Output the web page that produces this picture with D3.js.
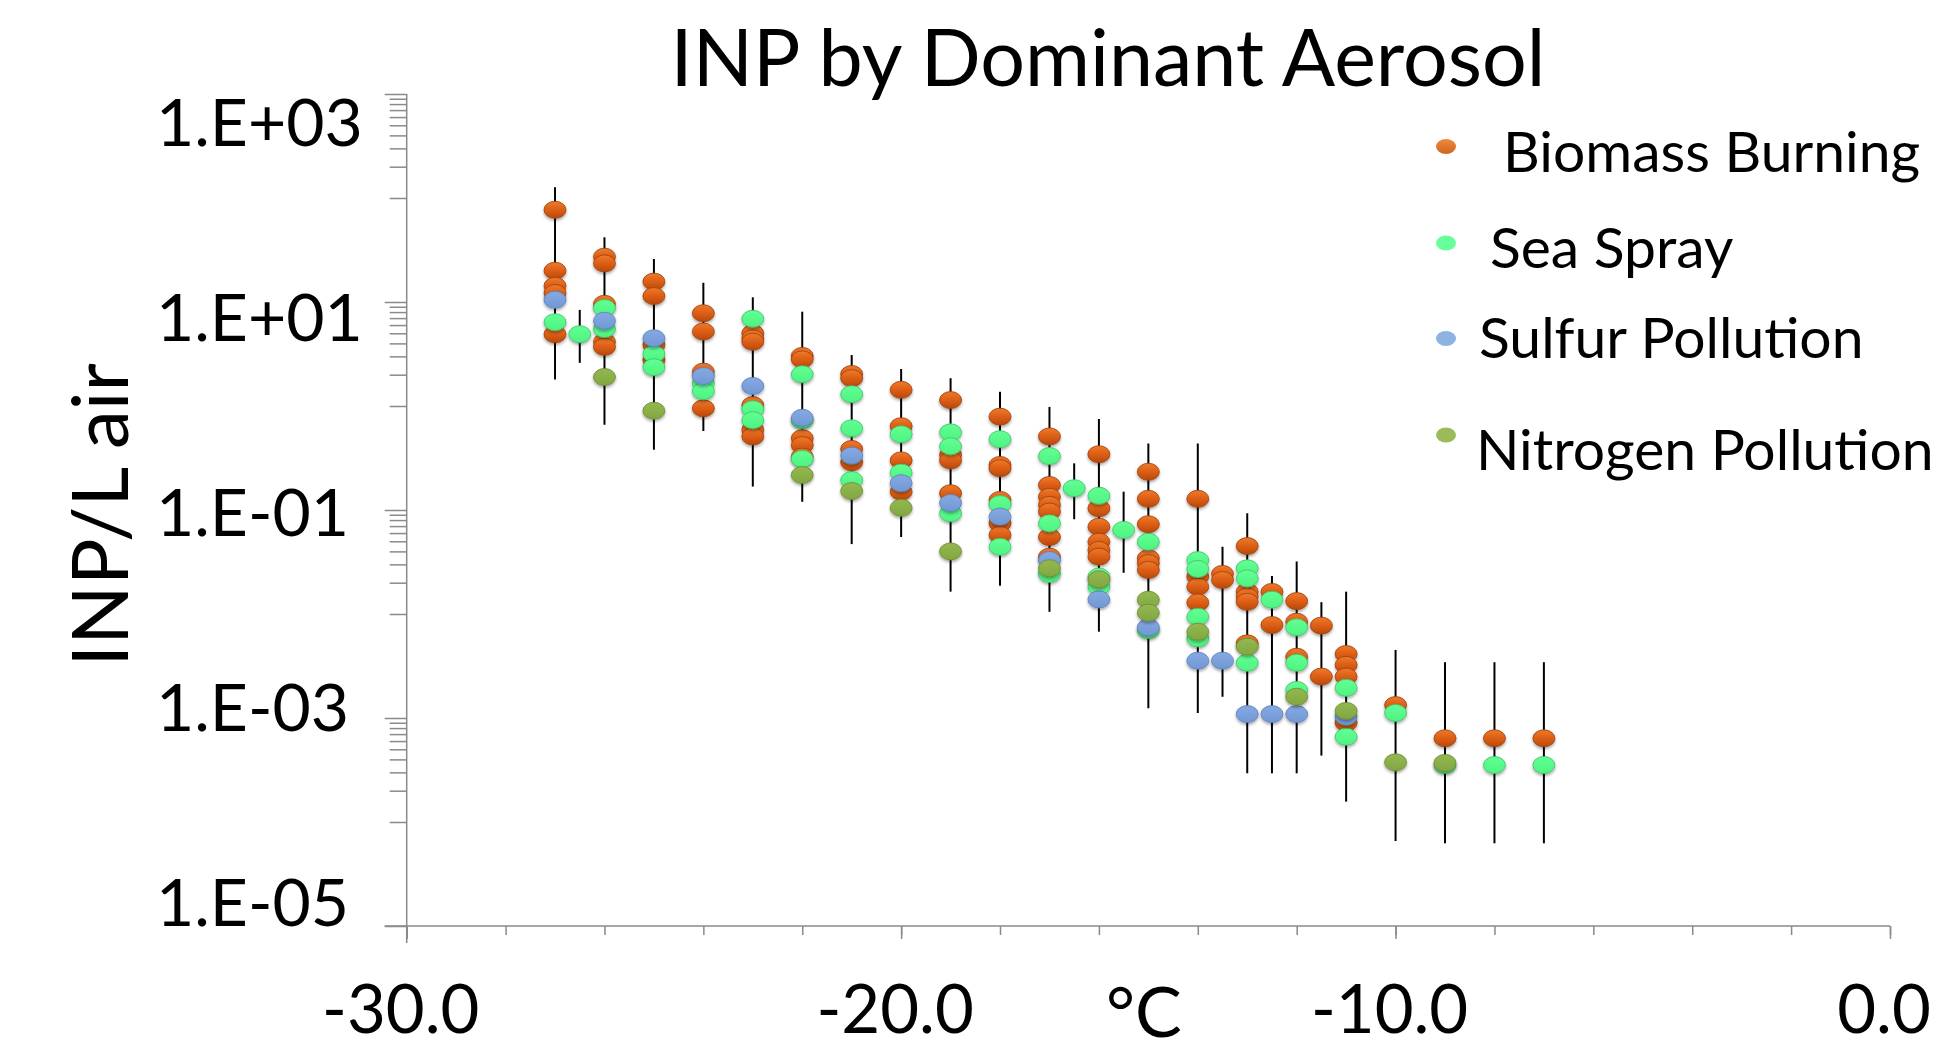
<!DOCTYPE html>
<html>
<head>
<meta charset="utf-8">
<script src="https://cdn.jsdelivr.net/npm/d3@7"></script>
<style>
  body { margin: 0; background: #fff; }
  text { font-family: Lato, "Open Sans", sans-serif; fill: #000; }
</style>
</head>
<body>
<svg id="chart"></svg>
<script>
// values: [temperature °C, [INP per litre ...]]
const biomassBurning = [
  [-27, [77, 20, 14.3, 12.2, 4.9]],
  [-26, [27.3, 23.5, 9.6, 4.15, 3.7]],
  [-25, [15.7, 11.4, 3.86, 2.77]],
  [-24, [7.8, 5.2, 2.14, 0.95]],
  [-23, [5.0, 4.48, 4.15, 1.02, 0.59, 0.51]],
  [-22, [3.03, 2.81, 0.49, 0.42, 0.326]],
  [-21, [2.03, 1.85, 0.386, 0.288]],
  [-20, [1.43, 0.64, 0.30, 0.15]],
  [-19, [1.14, 0.338, 0.30, 0.145]],
  [-18, [0.79, 0.271, 0.252, 0.125, 0.0745, 0.0575]],
  [-17, [0.51, 0.174, 0.134, 0.112, 0.0965, 0.055, 0.0356]],
  [-16, [0.344, 0.104, 0.069, 0.0495, 0.0412, 0.0356]],
  [-15, [0.233, 0.128, 0.073, 0.0344, 0.0308, 0.0265]],
  [-14, [0.128, 0.0229, 0.0183, 0.0129]],
  [-13.5, [0.0243, 0.0212]],
  [-13, [0.045, 0.0164, 0.0147, 0.0131, 0.00522]],
  [-12.5, [0.0163, 0.00783]],
  [-12, [0.0133, 0.00843, 0.00388]],
  [-11.5, [0.00773, 0.0025]],
  [-11, [0.00412, 0.00324, 0.0025, 0.0009]],
  [-10, [0.00133]],
  [-9, [0.000638]],
  [-8, [0.000638]],
  [-7, [0.000638]]
];

const seaSpray = [
  [-27, [6.4]],
  [-26.5, [4.9]],
  [-26, [8.75, 5.5]],
  [-25, [3.16, 2.36]],
  [-24, [1.65, 1.39]],
  [-23, [6.9, 0.93, 0.73]],
  [-22, [2.02, 0.73, 0.31]],
  [-21, [1.30, 0.61, 0.194]],
  [-20, [0.535, 0.229]],
  [-19, [0.558, 0.41, 0.093]],
  [-18, [0.48, 0.114, 0.0443]],
  [-17, [0.33, 0.0745, 0.0243]],
  [-16.5, [0.162]],
  [-16, [0.137, 0.0229, 0.0183]],
  [-15.5, [0.0643]],
  [-15, [0.0495, 0.007]],
  [-14, [0.033, 0.0271, 0.0094, 0.00583]],
  [-13, [0.0275, 0.022, 0.0034]],
  [-12.5, [0.0137]],
  [-12, [0.00745, 0.0034, 0.00186]],
  [-11, [0.00195, 0.00066]],
  [-10, [0.00112]],
  [-9, [0.000353]],
  [-8, [0.000353]],
  [-7, [0.000353]]
];

const sulfurPollution = [
  [-27, [10.5]], [-26, [6.6]], [-25, [4.48]], [-24, [1.94]], [-23, [1.56]],
  [-22, [0.77]], [-21, [0.333]], [-20, [0.181]], [-19, [0.117]], [-18, [0.0863]],
  [-17, [0.033]], [-16, [0.0138]], [-15, [0.00745]], [-14, [0.00356]],
  [-13.5, [0.00356]], [-13, [0.00109]], [-12.5, [0.00109]], [-12, [0.00109]],
  [-11, [0.00103]]
];

const nitrogenPollution = [
  [-26, [1.9]], [-25, [0.90]], [-22, [0.217]], [-21, [0.152]], [-20, [0.105]],
  [-19, [0.040]], [-17, [0.0275]], [-16, [0.0216]], [-15, [0.0137, 0.0103]],
  [-14, [0.00676]], [-13, [0.00486]], [-12, [0.0016]], [-11, [0.00117]],
  [-10, [0.000375]], [-9, [0.00037]]
];

// error bars, one per temperature column
const errTemp = [-27, -26.5, -26, -25, -24, -23, -22, -21, -20, -19, -18, -17, -16.5, -16,
  -15.5, -15, -14, -13.5, -13, -12.5, -12, -11.5, -11, -10, -9, -8, -7];
const errLow = [1.8, 2.6, 0.66, 0.38, 0.575, 0.168, 0.12, 0.047, 0.055, 0.0164, 0.0187, 0.0105,
  0.0815, 0.00676, 0.0249, 0.00124, 0.00112, 0.0016, 0.000294, 0.000294, 0.000294, 0.000435,
  0.000157, 0.0000656, 0.0000624, 0.0000624, 0.0000624];
const errHigh = [127, 8.4, 41.9, 25.9, 15.3, 11.1, 8.07, 3.09, 2.27, 1.85, 1.37, 0.98, 0.281,
  0.75, 0.15, 0.437, 0.437, 0.0443, 0.093, 0.0232, 0.032, 0.013, 0.0164, 0.00451, 0.00344,
  0.00344, 0.00344];

const seriesNames = ['Biomass Burning', 'Sea Spray', 'Sulfur Pollution', 'Nitrogen Pollution'];
const xTickValues = [-30, -20, -10, 0];
const yTickValues = [1e-5, 1e-3, 1e-1, 1e1, 1e3];
const yTickLabels = ['1.E-05', '1.E-03', '1.E-01', '1.E+01', '1.E+03'];

const W = 1947, H = 1053;
const svg = d3.select('#chart').attr('width', W).attr('height', H);

const x = d3.scaleLinear().domain([-30, 0]).range([406.7, 1890]);
const y = d3.scaleLog().domain([1e-5, 1e3]).range([926, 94]);
// the tick labels sit a little off the ticks in the original
const yLab = d3.scaleLog().domain([1e-5, 1e3]).range([902, 122]);

//******** defs *********//
const defs = svg.append('defs');
const shadow = defs.append('filter').attr('id', 'shadow')
    .attr('x', '-30%').attr('y', '-30%').attr('width', '160%').attr('height', '180%');
shadow.append('feDropShadow')
    .attr('dx', 0).attr('dy', 2).attr('stdDeviation', 1.6)
    .attr('flood-color', '#000').attr('flood-opacity', 0.35);

function grad(id, stops) {
  const g = defs.append('linearGradient').attr('id', id)
      .attr('x1', 0).attr('y1', 0).attr('x2', 0).attr('y2', 1);
  stops.forEach(s => g.append('stop').attr('offset', s[0]).attr('stop-color', s[1]));
}
grad('gOrange', [[0, '#ee7a2c'], [0.5, '#dc5e14'], [1, '#b8490d']]);
grad('gGreen', [[0, '#62ff93'], [1, '#4ef381']]);
grad('gBlue', [[0, '#86a9e2'], [1, '#7198d4']]);
grad('gOlive', [[0, '#94b852'], [1, '#82a73f']]);
grad('lOrange', [[0, '#f08a3e'], [1, '#d0641f']]);

const styles = [
  {fill: 'url(#gOrange)', stroke: '#9c3f0c', legend: 'url(#lOrange)'},
  {fill: 'url(#gGreen)', stroke: '#3fbf68', legend: '#66ff99'},
  {fill: 'url(#gBlue)', stroke: '#5b7fb8', legend: '#8db3e2'},
  {fill: 'url(#gOlive)', stroke: '#6b8a32', legend: '#9bbb59'}
];

//******** axes *********//
const axisColor = '#8a8a8a';

// minor y ticks: 10..90 of every two-decade step
const yMinor = [];
[-5, -3, -1, 1].forEach(e => {
  d3.range(1, 10).forEach(k => yMinor.push(k * Math.pow(10, e + 1)));
});

const yMinorAxis = svg.append('g')
    .attr('transform', `translate(${x(-30)},0)`)
    .call(d3.axisLeft(y).tickValues(yMinor).tickSize(17).tickFormat(''));
const yMajorAxis = svg.append('g')
    .attr('transform', `translate(${x(-30)},0)`)
    .call(d3.axisLeft(y).tickValues(yTickValues).tickSize(22).tickFormat(''));

const xMinorAxis = svg.append('g')
    .attr('transform', `translate(0,${y(1e-5)})`)
    .call(d3.axisBottom(x).tickValues(d3.range(-30, 1, 2)).tickSize(9).tickFormat(''));
const xMajorAxis = svg.append('g')
    .attr('transform', `translate(0,${y(1e-5)})`)
    .call(d3.axisBottom(x).tickValues(xTickValues).tickSize(13).tickFormat(''));

[yMinorAxis, yMajorAxis, xMinorAxis, xMajorAxis].forEach(a => {
  a.select('.domain').remove();
  a.selectAll('line').attr('stroke', axisColor).attr('stroke-width', 1.5);
});

svg.append('line')
    .attr('x1', x(-30)).attr('x2', x(-30))
    .attr('y1', y(1e3)).attr('y2', y(1e-5) + 17)
    .attr('stroke', axisColor).attr('stroke-width', 1.5);
svg.append('line')
    .attr('x1', x(-30) - 22).attr('x2', x(0))
    .attr('y1', y(1e-5)).attr('y2', y(1e-5))
    .attr('stroke', axisColor).attr('stroke-width', 1.5);

svg.append('g').selectAll('text')
    .data(yTickValues)
    .enter().append('text')
    .attr('x', 156)
    .attr('y', d => yLab(d))
    .attr('dy', '0.36em')
    .attr('font-size', 66)
    .text((d, i) => yTickLabels[i]);

svg.append('g').selectAll('text')
    .data(xTickValues)
    .enter().append('text')
    .attr('x', d => x(d) - 6)
    .attr('y', 1033)
    .attr('text-anchor', 'middle')
    .attr('font-size', 67)
    .text(d => d3.format('.1f')(d).replace('−', '-'));

svg.append('text')
    .attr('x', 1144).attr('y', 1037)
    .attr('text-anchor', 'middle')
    .attr('font-size', 70)
    .text('°C');

svg.append('text')
    .attr('transform', 'translate(128,515) rotate(-90)')
    .attr('text-anchor', 'middle')
    .attr('font-size', 78)
    .text('INP/L air');

svg.append('text')
    .attr('x', 1108).attr('y', 86)
    .attr('text-anchor', 'middle')
    .attr('font-size', 79)
    .text('INP by Dominant Aerosol');

//******** error bars *********//
svg.append('g').selectAll('line')
    .data(errTemp)
    .enter().append('line')
    .attr('x1', d => x(d)).attr('x2', d => x(d))
    .attr('y1', (d, i) => y(errHigh[i]))
    .attr('y2', (d, i) => y(errLow[i]))
    .attr('stroke', '#000')
    .attr('stroke-width', 2);

//******** points *********//
const allSeries = [biomassBurning, seaSpray, sulfurPollution, nitrogenPollution];
allSeries.forEach((s, si) => {
  const pts = s.flatMap(([t, vals]) => vals.map(v => ({t, v})));
  svg.append('g')
      .attr('filter', 'url(#shadow)')
    .selectAll('ellipse')
    .data(pts)
    .enter().append('ellipse')
      .attr('cx', d => x(d.t))
      .attr('cy', d => y(d.v))
      .attr('rx', 11)
      .attr('ry', 8.5)
      .attr('fill', styles[si].fill)
      .attr('stroke', styles[si].stroke)
      .attr('stroke-width', 0.8);
});

//******** legend *********//
const legendMarkY = [146.5, 243, 338.5, 435];
const legendTextX = [1503, 1490, 1479, 1476];
const legendTextY = [172, 268, 358, 470];
const legend = svg.append('g').selectAll('g')
    .data(seriesNames)
    .enter().append('g');
legend.append('ellipse')
    .attr('cx', 1446)
    .attr('cy', (d, i) => legendMarkY[i])
    .attr('rx', 10).attr('ry', 7.5)
    .attr('fill', (d, i) => styles[i].legend);
legend.append('text')
    .attr('x', (d, i) => legendTextX[i])
    .attr('y', (d, i) => legendTextY[i])
    .attr('font-size', 57)
    .text(d => d);
</script>
</body>
</html>
